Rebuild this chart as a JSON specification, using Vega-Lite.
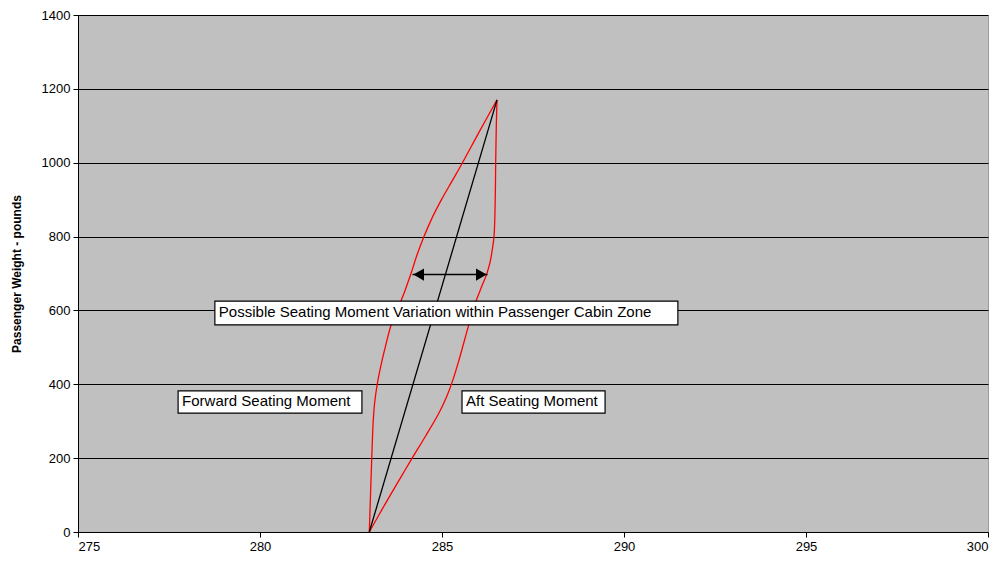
{
  "$schema": "https://vega.github.io/schema/vega-lite/v6.json",
  "width": 910,
  "height": 517,
  "autosize": {"type": "none"},
  "padding": {"left": 78, "top": 15, "right": 14, "bottom": 33},
  "background": "white",
  "config": {
    "view": {"stroke": "#9a9a9a", "strokeWidth": 1, "fill": "#C0C0C0"},
    "font": "Liberation Sans"
  },
  "datasets": {
    "curves": [
      {"series": "Forward", "cg": 283.003, "weight": 0},
      {"series": "Forward", "cg": 283.036, "weight": 100},
      {"series": "Forward", "cg": 283.07, "weight": 200},
      {"series": "Forward", "cg": 283.11, "weight": 300},
      {"series": "Forward", "cg": 283.15, "weight": 350},
      {"series": "Forward", "cg": 283.22, "weight": 400},
      {"series": "Forward", "cg": 283.32, "weight": 450},
      {"series": "Forward", "cg": 283.44, "weight": 500},
      {"series": "Forward", "cg": 283.6, "weight": 560},
      {"series": "Forward", "cg": 283.764, "weight": 600},
      {"series": "Forward", "cg": 283.970, "weight": 650},
      {"series": "Forward", "cg": 284.148, "weight": 700},
      {"series": "Forward", "cg": 284.313, "weight": 750},
      {"series": "Forward", "cg": 284.505, "weight": 800},
      {"series": "Forward", "cg": 284.725, "weight": 850},
      {"series": "Forward", "cg": 284.986, "weight": 900},
      {"series": "Forward", "cg": 285.275, "weight": 950},
      {"series": "Forward", "cg": 285.563, "weight": 1000},
      {"series": "Forward", "cg": 286.030, "weight": 1085},
      {"series": "Forward", "cg": 286.511, "weight": 1170},
      {"series": "Aft", "cg": 283.003, "weight": 0},
      {"series": "Aft", "cg": 283.29, "weight": 50},
      {"series": "Aft", "cg": 283.58, "weight": 100},
      {"series": "Aft", "cg": 283.88, "weight": 150},
      {"series": "Aft", "cg": 284.18, "weight": 200},
      {"series": "Aft", "cg": 284.55, "weight": 260},
      {"series": "Aft", "cg": 284.92, "weight": 323},
      {"series": "Aft", "cg": 285.13, "weight": 367},
      {"series": "Aft", "cg": 285.3, "weight": 412},
      {"series": "Aft", "cg": 285.45, "weight": 460},
      {"series": "Aft", "cg": 285.62, "weight": 520},
      {"series": "Aft", "cg": 285.79, "weight": 580},
      {"series": "Aft", "cg": 285.934, "weight": 625},
      {"series": "Aft", "cg": 286.071, "weight": 660},
      {"series": "Aft", "cg": 286.223, "weight": 697},
      {"series": "Aft", "cg": 286.319, "weight": 730},
      {"series": "Aft", "cg": 286.374, "weight": 760},
      {"series": "Aft", "cg": 286.429, "weight": 800},
      {"series": "Aft", "cg": 286.462, "weight": 900},
      {"series": "Aft", "cg": 286.475, "weight": 1000},
      {"series": "Aft", "cg": 286.492, "weight": 1100},
      {"series": "Aft", "cg": 286.511, "weight": 1170},
      {"series": "Center", "cg": 283.003, "weight": 0},
      {"series": "Center", "cg": 286.511, "weight": 1170}
    ],
    "arrow": [
      {"x1": 284.19, "x2": 286.25, "weight": 697}
    ],
    "heads": [
      {"cg": 284.36, "weight": 697, "shape": "triangle-left"},
      {"cg": 286.08, "weight": 697, "shape": "triangle-right"}
    ],
    "boxes": [
      {"label": "Possible Seating Moment Variation within Passenger Cabin Zone", "x1": 278.76, "x2": 291.48, "y1": 625, "y2": 561},
      {"label": "Forward Seating Moment", "x1": 277.75, "x2": 282.8, "y1": 382, "y2": 322},
      {"label": "Aft Seating Moment", "x1": 285.55, "x2": 289.48, "y1": 382, "y2": 322}
    ]
  },
  "layer": [
    {
      "data": {"name": "curves"},
      "mark": {"type": "line", "strokeWidth": 1.3, "interpolate": "catmull-rom"},
      "encoding": {
        "x": {
          "field": "cg", "type": "quantitative",
          "scale": {"domain": [275, 300], "nice": false, "zero": false},
          "axis": {
            "values": [275, 280, 285, 290, 295, 300],
            "title": null, "grid": false,
            "domainColor": "black", "tickColor": "black", "tickSize": 5,
            "labelFontSize": 13, "labelColor": "black", "labelPadding": 3,
            "labelFont": "Liberation Sans"
          }
        },
        "y": {
          "field": "weight", "type": "quantitative",
          "scale": {"domain": [0, 1400], "nice": false},
          "axis": {
            "values": [0, 200, 400, 600, 800, 1000, 1200, 1400],
            "format": "d",
            "title": "Passenger Weight - pounds",
            "titleFontSize": 12, "titleFontWeight": "bold", "titleColor": "black",
            "titleFont": "Liberation Sans", "titlePadding": 18,
            "grid": true, "gridColor": "black", "gridOpacity": 1, "gridWidth": 1,
            "domainColor": "black", "tickColor": "black", "tickSize": 5,
            "labelFontSize": 13, "labelColor": "black", "labelPadding": 3,
            "labelFont": "Liberation Sans"
          }
        },
        "color": {
          "field": "series", "type": "nominal",
          "scale": {"domain": ["Forward", "Aft", "Center"], "range": ["#FF0000", "#FF0000", "#000000"]},
          "legend": null
        },
        "order": {"field": "weight", "type": "quantitative"}
      }
    },
    {
      "data": {"name": "arrow"},
      "mark": {"type": "rule", "color": "black", "strokeWidth": 1.5},
      "encoding": {
        "x": {"field": "x1", "type": "quantitative"},
        "x2": {"field": "x2"},
        "y": {"field": "weight", "type": "quantitative"}
      }
    },
    {
      "data": {"name": "heads"},
      "mark": {"type": "point", "filled": true, "color": "black", "opacity": 1, "size": 150},
      "encoding": {
        "x": {"field": "cg", "type": "quantitative"},
        "y": {"field": "weight", "type": "quantitative"},
        "shape": {"field": "shape", "type": "nominal", "scale": null}
      }
    },
    {
      "data": {"name": "boxes"},
      "mark": {"type": "rect", "fill": "white", "stroke": "black", "strokeWidth": 1.2},
      "encoding": {
        "x": {"field": "x1", "type": "quantitative"},
        "x2": {"field": "x2"},
        "y": {"field": "y1", "type": "quantitative"},
        "y2": {"field": "y2"}
      }
    },
    {
      "data": {"name": "boxes"},
      "transform": [{"calculate": "(datum.y1 + datum.y2) / 2", "as": "ym"}],
      "mark": {"type": "text", "align": "left", "baseline": "middle", "dx": 4, "dy": -1, "fontSize": 15, "font": "Liberation Sans", "color": "black"},
      "encoding": {
        "x": {"field": "x1", "type": "quantitative"},
        "y": {"field": "ym", "type": "quantitative"},
        "text": {"field": "label"}
      }
    }
  ]
}
